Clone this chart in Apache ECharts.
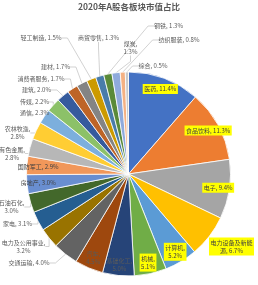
<!DOCTYPE html>
<html><head><meta charset="utf-8">
<script src="https://cdn.jsdelivr.net/npm/echarts/dist/echarts.min.js"></script>
<style>html,body{margin:0;padding:0;background:#fff}#c{width:258px;height:285px}</style>
</head><body><div id="c"></div>
<script>
const categories = ['医药','食品饮料','电子','电力设备及新能源','计算机','机械','基础化工','汽车','交通运输','电力及公用事业','家电','石油石化','房地产','国防军工','有色金属','农林牧渔','通信','传媒','建筑','消费者服务','建材','轻工制造','商贸零售','钢铁','煤炭','纺织服装','综合'];
const shares = [11.4,11.3,9.4,6.7,5.2,5.1,5.0,4.5,4.0,3.2,3.1,3.0,3.0,2.9,2.8,2.8,2.3,2.2,2.0,1.7,1.7,1.5,1.3,1.3,1.3,0.8,0.5];
const sliceColors = ['#4472C4','#ED7D31','#A5A5A5','#FFC000','#5B9BD5','#70AD47','#264478','#9E480E','#636363','#997300','#255E91','#43682B','#698ED0','#F1975A','#B7B7B7','#FFCD33','#7CAFDD','#8CC168','#365B9D','#BE6427','#848484','#CC9A00','#497CAA','#5A8A39','#8FAADC','#F4B183','#C9C9C9'];
const titleText = '2020年A股各板块市值占比';

// label styling groups (layout config, not data)
const yellowSet = new Set(['医药','食品饮料','电子','电力设备及新能源','计算机','机械']);
const insideSet = new Set(['基础化工','汽车','国防军工','房地产']);
const twoLine = new Set(['计算机','机械','基础化工','汽车','农林牧渔','有色金属','石油石化','电力及公用事业','煤炭']);
const wrapAt = {'电力设备及新能源': 7};
const labelAnchor = {
  '钢铁':[168.5,26],'轻工制造':[41,38],'商贸零售':[98.5,38],'煤炭':[130.5,47.5],
  '纺织服装':[179,40],'综合':[153,66],'建材':[55.5,67],'消费者服务':[41,79],
  '建筑':[36.5,90],'传媒':[34.5,102],'通信':[34.5,113],'农林牧渔':[17.5,133],
  '有色金属':[12,153.5],'石油石化':[11.5,207],'家电':[17.5,224],
  '电力及公用事业':[23.5,246.5],'交通运输':[29,263],'电力设备及新能源':[231.5,246.5]
};
const C = [128.5, 174], R = 102, insideK = 1.68;
const FONT = '"Noto Sans CJK SC", "Noto Sans", sans-serif';

function fmt(p) {
  const name = p.name, v = Number(p.value).toFixed(1) + '%';
  if (wrapAt[name]) {
    const full = name + ', ' + v;
    return full.slice(0, wrapAt[name]) + '\n' + full.slice(wrapAt[name]);
  }
  return twoLine.has(name) ? name + ',\n' + v : name + ', ' + v;
}

const data = categories.map((name, i) => {
  const item = { name, value: shares[i], itemStyle: { color: sliceColors[i] } };
  if (yellowSet.has(name)) {
    item.label = { position: 'inside', backgroundColor: '#FFFF00', color: '#404040', padding: [1.5, 1.5, 0.5, 1.5] };
    item.labelLine = { show: false };
  } else if (insideSet.has(name)) {
    item.label = { position: 'inside', color: (name === '国防军工' || name === '房地产') ? '#404040' : '#5a5a5a' };
    item.labelLine = { show: false };
  }
  return item;
});

const chart = echarts.init(document.getElementById('c'), null, { renderer: 'canvas' });
chart.setOption({
  animation: false,
  backgroundColor: '#ffffff',
  title: {
    text: titleText, left: 'center', top: 3, padding: 0,
    textStyle: { fontSize: 8.5, fontWeight: 'bold', color: '#595959', fontFamily: FONT }
  },
  series: [{
    type: 'pie',
    center: C, radius: [0, R],
    startAngle: 90, clockwise: true,
    avoidLabelOverlap: false,
    emphasis: { disabled: true },
    itemStyle: { borderColor: '#ffffff', borderWidth: 0.8 },
    label: {
      show: true, position: 'outside', formatter: fmt, overflow: 'none',
      fontSize: 6, lineHeight: 8, color: '#595959', fontFamily: FONT, align: 'center'
    },
    labelLine: { show: true, length: 6, length2: 6, minTurnAngle: 90, lineStyle: { color: '#BFBFBF', width: 0.7 } },
    labelLayout: function (params) {
      const name = categories[params.dataIndex];
      if (labelAnchor[name]) {
        return { x: labelAnchor[name][0], y: labelAnchor[name][1], align: 'center', verticalAlign: 'middle' };
      }
      const r = params.labelRect;
      const lx = r.x + r.width / 2, ly = r.y + r.height / 2;
      return { x: C[0] + (lx - C[0]) * insideK, y: C[1] + (ly - C[1]) * insideK, align: 'center', verticalAlign: 'middle' };
    },
    data: data
  }]
});
</script>
</body></html>
